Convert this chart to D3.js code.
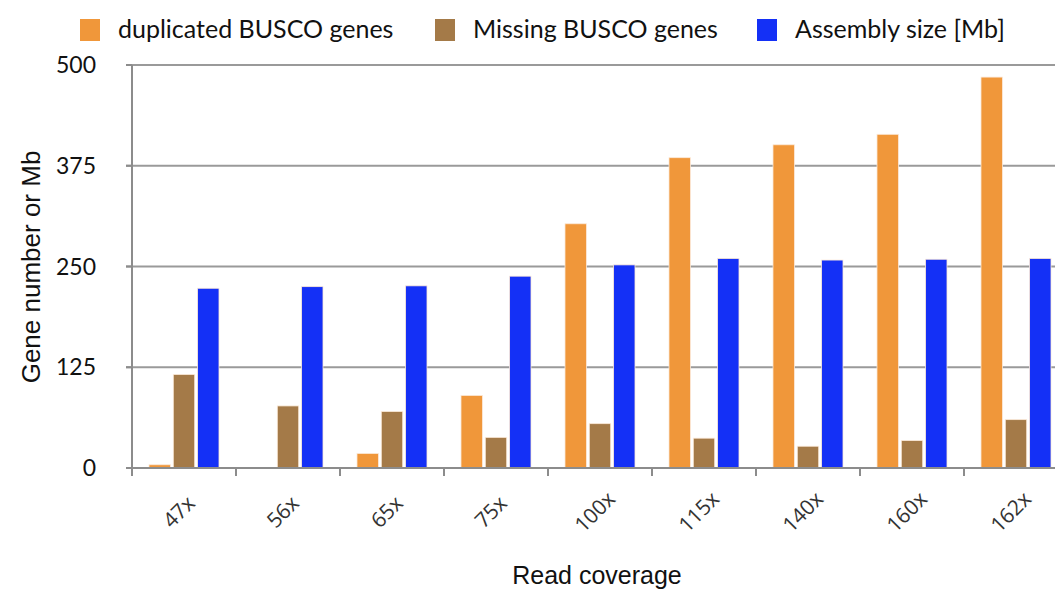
<!DOCTYPE html>
<html>
<head>
<meta charset="utf-8">
<script src="https://d3js.org/d3.v7.min.js"></script>
<style>
  body { margin: 0; background: #fff; }
</style>
</head>
<body>
<div id="chartContainer"></div>
<script type="text/javascript">

  // data
  var coverage = ["47x", "56x", "65x", "75x", "100x", "115x", "140x", "160x", "162x"];
  var duplicated = [4, 0, 18, 90, 303, 385, 401, 414, 485];
  var missing = [116, 77, 70, 38, 55, 37, 27, 34, 60];
  var assembly = [223, 225, 226, 238, 252, 260, 258, 259, 260];
  var yTicks = [0, 125, 250, 375, 500];
  var seriesNames = ["duplicated BUSCO genes", "Missing BUSCO genes", "Assembly size [Mb]"];
  var seriesColors = ["#F0973A", "#A47A48", "#1430F6"];

  var W = 1055, H = 591;
  var svg = d3.select("#chartContainer").append("svg")
    .attr("width", W).attr("height", H);

  // scales - last category runs a bit past the right edge like in the original
  var x0 = d3.scaleBand().domain(coverage).range([132, 1068]);
  var x1 = d3.scaleBand().domain(seriesNames).range([17, 87]).paddingInner(0.12);
  var y = d3.scaleLinear().domain([0, 500]).range([468, 65]);

  // gridlines
  svg.append("g").selectAll("line")
    .data(yTicks.slice(1))
    .enter().append("line")
    .attr("x1", 126).attr("x2", W)
    .attr("y1", function(d) { return y(d); })
    .attr("y2", function(d) { return y(d); })
    .style("stroke", "#9a9a9a").style("stroke-width", 2);

  // bars
  var rows = coverage.map(function(c, i) {
    return { cov: c, vals: [duplicated[i], missing[i], assembly[i]] };
  });
  var groups = svg.append("g").selectAll("g")
    .data(rows).enter().append("g")
    .attr("transform", function(d) { return "translate(" + x0(d.cov) + ",0)"; });
  groups.selectAll("rect")
    .data(function(d) { return d.vals.map(function(v, k) { return { k: k, v: v }; }); })
    .enter().append("rect")
    .filter(function(d) { return d.v > 0; })
    .attr("x", function(d) { return x1(seriesNames[d.k]); })
    .attr("width", x1.bandwidth())
    .attr("y", function(d) { return y(d.v); })
    .attr("height", function(d) { return y(0) - y(d.v); })
    .style("fill", function(d) { return seriesColors[d.k]; })
    .style("stroke", "#fbe9d8").style("stroke-width", 0.8);

  // axes
  var axisColor = "#8c8c8c";
  svg.append("line")
    .attr("x1", 126).attr("x2", W).attr("y1", y(0)).attr("y2", y(0))
    .style("stroke", axisColor).style("stroke-width", 2);
  svg.append("line")
    .attr("x1", 132).attr("x2", 132).attr("y1", y(500)).attr("y2", y(0) + 8)
    .style("stroke", axisColor).style("stroke-width", 2);
  svg.append("g").selectAll("line")
    .data(yTicks)
    .enter().append("line")
    .attr("x1", 126).attr("x2", 132)
    .attr("y1", function(d) { return y(d); }).attr("y2", function(d) { return y(d); })
    .style("stroke", axisColor).style("stroke-width", 2);
  svg.append("g").selectAll("line")
    .data(coverage.slice(1))
    .enter().append("line")
    .attr("x1", function(d) { return x0(d); }).attr("x2", function(d) { return x0(d); })
    .attr("y1", y(0)).attr("y2", y(0) + 8)
    .style("stroke", axisColor).style("stroke-width", 2);

  // y tick labels
  svg.append("g").selectAll("text")
    .data(yTicks)
    .enter().append("text")
    .attr("x", 96)
    .attr("y", function(d) { return y(d) + 8; })
    .style("text-anchor", "end")
    .style("font-family", "Lato, 'Open Sans', sans-serif")
    .style("font-size", "23px")
    .style("fill", "#111")
    .text(function(d) { return d; });

  // x tick labels, rotated
  svg.append("g").selectAll("text")
    .data(coverage)
    .enter().append("text")
    .attr("transform", function(d) {
      return "translate(" + (x0(d) + x0.bandwidth() / 2) + ",517) rotate(-45)";
    })
    .style("text-anchor", "middle")
    .style("font-family", "'Open Sans', Lato, sans-serif")
    .style("font-size", "21px")
    .style("fill", "#333")
    .text(function(d) { return d; });

  // axis titles
  svg.append("text")
    .attr("transform", "translate(40,267) rotate(-90)")
    .style("text-anchor", "middle")
    .style("font-family", "'Liberation Sans', Arial, sans-serif")
    .style("font-size", "26px")
    .style("fill", "#111")
    .text("Gene number or Mb");
  svg.append("text")
    .attr("x", 597).attr("y", 584)
    .style("text-anchor", "middle")
    .style("font-family", "'Liberation Sans', Arial, sans-serif")
    .style("font-size", "25px")
    .style("fill", "#111")
    .text("Read coverage");

  // legend
  var legendX = [80, 435, 757];
  var legend = svg.append("g").selectAll("g")
    .data(seriesNames)
    .enter().append("g")
    .attr("transform", function(d, i) { return "translate(" + legendX[i] + ",19)"; });
  legend.append("rect")
    .attr("width", 20).attr("height", 22)
    .style("fill", function(d, i) { return seriesColors[i]; });
  legend.append("text")
    .attr("x", 38).attr("y", 19)
    .style("font-family", "Lato, 'Open Sans', sans-serif")
    .style("font-size", "25px")
    .style("fill", "#111")
    .text(function(d) { return d; });

</script>
</body>
</html>
